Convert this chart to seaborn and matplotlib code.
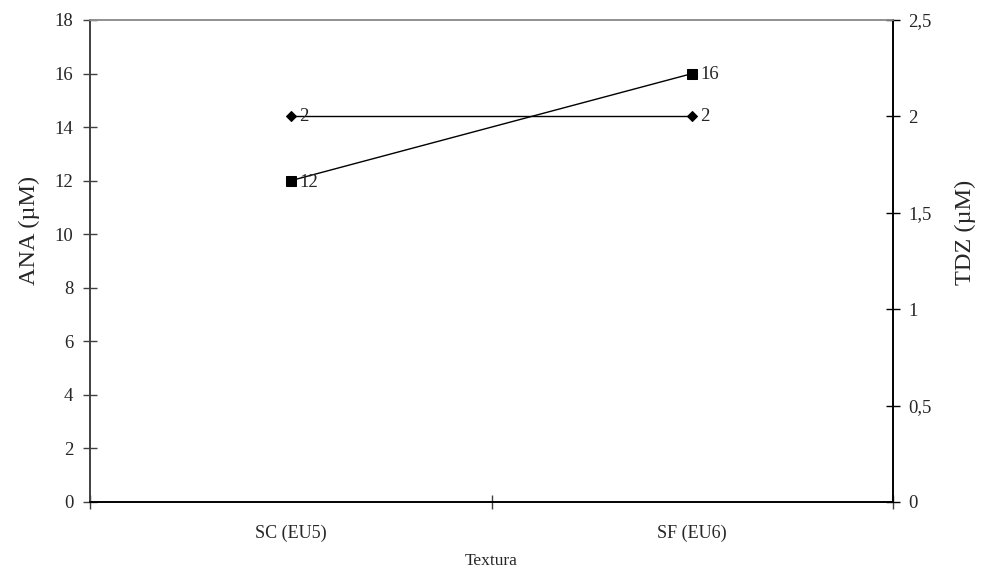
import matplotlib
matplotlib.use("Agg")
import matplotlib.pyplot as plt
import seaborn as sns
import pandas as pd
from matplotlib.ticker import FuncFormatter, FixedLocator

categories = ["SC (EU5)", "SF (EU6)"]
ana_values = [12, 16]
tdz_values = [2, 2]
left_ticks = [0, 2, 4, 6, 8, 10, 12, 14, 16, 18]
right_ticks = [0, 0.5, 1, 1.5, 2, 2.5]

sns.set_style("white")
plt.rcParams["font.family"] = ["Liberation Serif", "DejaVu Serif"]

df_ana = pd.DataFrame({"x": range(len(categories)), "y": ana_values})
df_tdz = pd.DataFrame({"x": range(len(categories)), "y": tdz_values})

fig = plt.figure(figsize=(9.82, 5.71), dpi=100)
ax = fig.add_axes([90/982, 1-502/571, (893-90)/982, (502-20)/571])
ax2 = ax.twinx()

sns.lineplot(data=df_ana, x="x", y="y", ax=ax, color="black", marker="s",
             markersize=6.5, markeredgecolor="black", linewidth=1.0)
sns.lineplot(data=df_tdz, x="x", y="y", ax=ax2, color="black", marker="D",
             markersize=5.5, markeredgecolor="black", linewidth=1.0)

for i, v in enumerate(ana_values):
    ax.annotate(f"{v}", (i, v), xytext=(6, -1), textcoords="offset points",
                va="center", ha="left", fontsize=13.5)
for i, v in enumerate(tdz_values):
    ax2.annotate(f"{v}", (i, v), xytext=(6, 0), textcoords="offset points",
                 va="center", ha="left", fontsize=13.5)

ax.set_xlim(-0.5, len(categories) - 0.5)
ax.set_ylim(0, 18)
ax2.set_ylim(0, 2.5)
ax.set_yticks(left_ticks)
ax2.set_yticks(right_ticks)
ax2.yaxis.set_major_formatter(FuncFormatter(lambda v, p: (f"{v:g}").replace(".", ",")))

ax.xaxis.set_major_locator(FixedLocator([-0.5, 0.5, 1.5]))
ax.xaxis.set_major_formatter(FuncFormatter(lambda v, p: ""))
ax.xaxis.set_minor_locator(FixedLocator(list(range(len(categories)))))
ax.set_xticklabels(categories, minor=True)
ax.tick_params(axis="x", which="minor", length=0, pad=16, labelsize=13)
ax.tick_params(axis="x", which="major", direction="inout", length=10, width=1, color="#404040", bottom=True)
ax.tick_params(axis="y", which="major", direction="inout", length=10, width=1, color="#404040", labelsize=13.5, pad=7, left=True)
ax2.tick_params(axis="y", which="major", direction="inout", length=10, width=1, color="black", labelsize=13.5, pad=6, right=True)

ax.set_xlabel("Textura", fontsize=12.5)
ax.xaxis.set_label_coords(0.5, -(553-502)/482)
ax.set_ylabel("ANA (µM)", fontsize=17.5)
ax.yaxis.set_label_coords((40-90)/803, (502-230)/482)
ax2.set_ylabel("TDZ (µM)", fontsize=17.5)
ax2.yaxis.set_label_coords((955-90)/803, (502-232)/482)

for a in (ax, ax2):
    a.spines["top"].set_color("#909090")
    a.spines["left"].set_color("#404040")
    a.spines["right"].set_color("black")
    a.spines["bottom"].set_color("black")
    for s in a.spines.values():
        s.set_linewidth(1.2)
    a.grid(False)

fig.savefig("out.png", dpi=100)
